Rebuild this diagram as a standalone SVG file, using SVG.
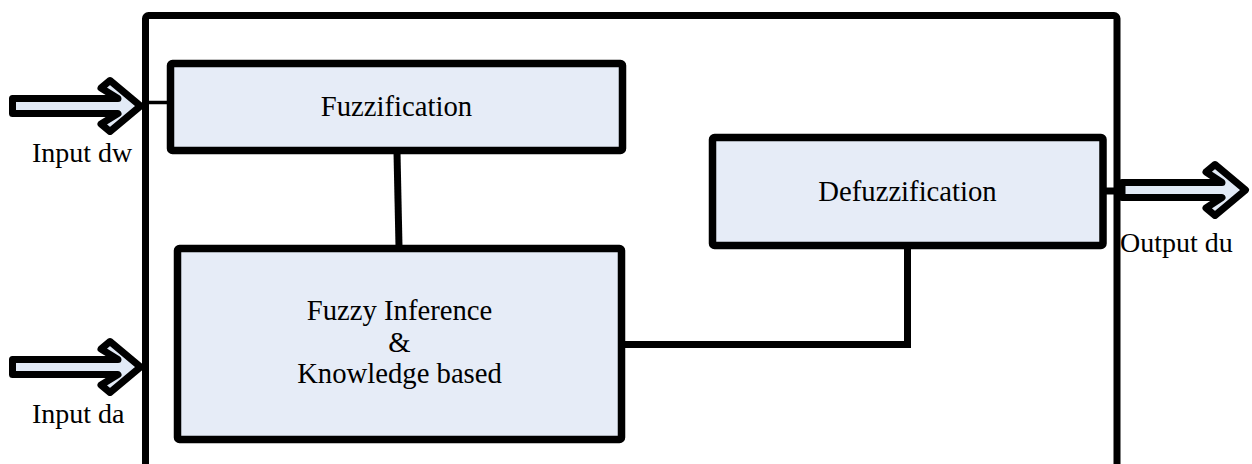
<svg xmlns="http://www.w3.org/2000/svg" width="1252" height="464" viewBox="0 0 1252 464">
<defs>
<style>
.frame{fill:none;stroke:#000;stroke-width:7;stroke-linejoin:round}
.box{fill:#E6ECF7;stroke:#000;stroke-width:7.5;stroke-linejoin:round}
.arrow{fill:#E2EAF6;stroke:#000;stroke-width:7;stroke-linejoin:round}
.conn{fill:none;stroke:#000;stroke-width:7}
.thin{fill:none;stroke:#000;stroke-width:3.5}
text{font-family:'Liberation Serif','Times New Roman','DejaVu Serif',serif;font-size:28px;fill:#000}
.c{text-anchor:middle;font-size:28.7px}
</style>
</defs>
<rect width="1252" height="464" fill="#fff"/>
<g id="frame">
<rect class="frame" x="145.5" y="15.5" width="971.5" height="480" rx="3"/>
</g>
<g id="connectors">
<line class="thin" x1="147" y1="102.5" x2="168" y2="102.5"/>
<line class="conn" x1="397" y1="152" x2="399" y2="247"/>
<polyline class="conn" points="623,344.5 907.5,344.5 907.5,247"/>
<line class="conn" x1="1104" y1="191" x2="1115" y2="191"/>
</g>
<g id="input-dw">
<polygon class="arrow" points="12.5,98.5 118,98.5 101,88 110,80.5 140.5,106 110,131.5 101,124 118,113.5 12.5,113.5"/>
<text x="32" y="162" font-family="Liberation Serif, serif">Input dw</text>
</g>
<g id="input-da">
<polygon class="arrow" points="12.5,359.5 118,359.5 101,349 110,341.5 140.5,367 110,392.5 101,385 118,374.5 12.5,374.5"/>
<text x="32" y="423" font-family="Liberation Serif, serif">Input da</text>
</g>
<g id="output-du">
<polygon class="arrow" points="1122,182.5 1222,182.5 1206,172 1215,164.5 1245.5,190 1215,215.5 1206,208 1222,197.5 1122,197.5"/>
<text x="1120" y="252" font-family="Liberation Serif, serif">Output du</text>
</g>
<g id="fuzzification">
<rect class="box" x="170.5" y="63.5" width="452" height="87" rx="2"/>
<text class="c" x="396.5" y="116" font-family="Liberation Serif, serif">Fuzzification</text>
</g>
<g id="inference">
<rect class="box" x="177.5" y="248.5" width="444" height="191" rx="2"/>
<text class="c" x="399.5" y="320" font-family="Liberation Serif, serif">Fuzzy Inference</text>
<text class="c" x="399.5" y="352" font-family="Liberation Serif, serif">&amp;</text>
<text class="c" x="399.5" y="383" font-family="Liberation Serif, serif">Knowledge based</text>
</g>
<g id="defuzzification">
<rect class="box" x="712.5" y="137.5" width="390.5" height="108" rx="2"/>
<text class="c" x="907.5" y="201" font-family="Liberation Serif, serif">Defuzzification</text>
</g>
</svg>
